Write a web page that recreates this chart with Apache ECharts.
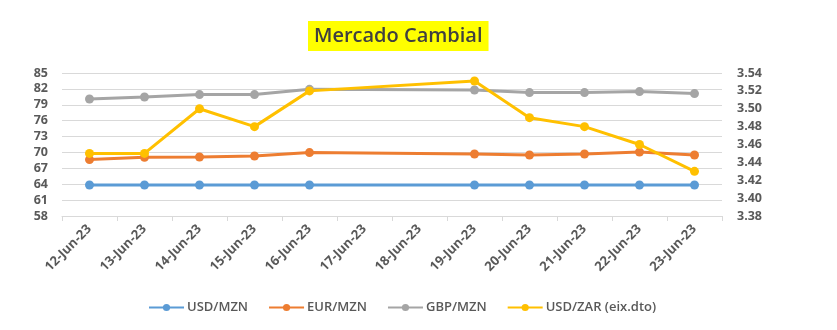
<!DOCTYPE html>
<html>
<head>
<meta charset="utf-8">
<script src="https://cdn.jsdelivr.net/npm/echarts@6/dist/echarts.min.js"></script>
<style>
  html, body { margin: 0; padding: 0; background: #ffffff; }
  #chart { width: 837px; height: 330px; }
</style>
</head>
<body>
<div id="chart"></div>
<script>
// Daily exchange rates (weekend days have no quote)
const dates = ['12-Jun-23', '13-Jun-23', '14-Jun-23', '15-Jun-23', '16-Jun-23', '17-Jun-23',
               '18-Jun-23', '19-Jun-23', '20-Jun-23', '21-Jun-23', '22-Jun-23', '23-Jun-23'];
const usdMzn = [63.85, 63.85, 63.85, 63.85, 63.85, null, null, 63.85, 63.85, 63.85, 63.85, 63.85];
const eurMzn = [68.65, 69.08, 69.14, 69.33, 69.97, null, null, 69.70, 69.52, 69.70, 70.08, 69.52];
const gbpMzn = [80.09, 80.47, 80.92, 80.92, 81.92, null, null, 81.79, 81.30, 81.30, 81.49, 81.11];
const usdZar = [3.45, 3.45, 3.50, 3.48, 3.52, null, null, 3.531, 3.49, 3.48, 3.46, 3.43];

const leftTicks = { min: 58, max: 85, step: 3 };
const rightTicks = { min: 3.38, max: 3.54, step: 0.02 };

const seriesNames = ['USD/MZN', 'EUR/MZN', 'GBP/MZN', 'USD/ZAR (eix.dto)'];
const seriesColors = ['#5B9BD5', '#ED7D31', '#A5A5A5', '#FFC000'];

const FONT = '"Open Sans", "Noto Sans", sans-serif';
const labelGray = '#595959';

function lineSeries(name, data, color, yAxisIndex) {
  return {
    name: name,
    type: 'line',
    yAxisIndex: yAxisIndex,
    data: data,
    connectNulls: true,
    symbol: 'circle',
    symbolSize: 9,
    lineStyle: { width: 3, color: color },
    itemStyle: { color: color },
    emphasis: { disabled: true },
    animation: false
  };
}

const chart = echarts.init(document.getElementById('chart'), null, { renderer: 'canvas' });
chart.setOption({
  backgroundColor: '#ffffff',
  animation: false,
  textStyle: { fontFamily: FONT },
  title: {
    text: 'Mercado Cambial',
    left: 308,
    top: 21,
    backgroundColor: '#FFFF00',
    padding: [5, 6, 5, 6],
    textStyle: { fontFamily: FONT, fontSize: 20, fontWeight: 600, color: '#404040' }
  },
  legend: {
    bottom: 11,
    left: 143,
    itemWidth: 35,
    itemHeight: 9,
    itemGap: 20,
    data: seriesNames,
    textStyle: { fontFamily: FONT, fontSize: 13, fontWeight: 600, color: labelGray, padding: [0, 0, 0, -2] }
  },
  grid: { left: 62, right: 115, top: 73, bottom: 114 },
  xAxis: {
    type: 'category',
    data: dates,
    boundaryGap: true,
    axisLine: { lineStyle: { color: '#D9D9D9', width: 1 } },
    axisTick: { show: true, length: 5, lineStyle: { color: '#D9D9D9' } },
    axisLabel: {
      interval: 0,
      rotate: 45,
      margin: 11,
      fontFamily: FONT,
      fontSize: 13,
      fontWeight: 700,
      color: labelGray
    }
  },
  yAxis: [
    {
      type: 'value',
      position: 'left',
      min: leftTicks.min,
      max: leftTicks.max,
      interval: leftTicks.step,
      axisLine: { show: false },
      axisTick: { show: false },
      splitLine: { lineStyle: { color: '#D9D9D9', width: 1 } },
      axisLabel: { margin: 14, fontFamily: FONT, fontSize: 12.5, fontWeight: 700, color: labelGray }
    },
    {
      type: 'value',
      position: 'right',
      min: rightTicks.min,
      max: rightTicks.max,
      interval: rightTicks.step,
      axisLine: { show: false },
      axisTick: { show: false },
      splitLine: { show: false },
      axisLabel: {
        margin: 15,
        fontFamily: FONT, fontSize: 12.5, fontWeight: 700, color: labelGray,
        formatter: v => v.toFixed(2)
      }
    }
  ],
  series: [
    lineSeries(seriesNames[0], usdMzn, seriesColors[0], 0),
    lineSeries(seriesNames[1], eurMzn, seriesColors[1], 0),
    lineSeries(seriesNames[2], gbpMzn, seriesColors[2], 0),
    lineSeries(seriesNames[3], usdZar, seriesColors[3], 1)
  ]
});
</script>
</body>
</html>
